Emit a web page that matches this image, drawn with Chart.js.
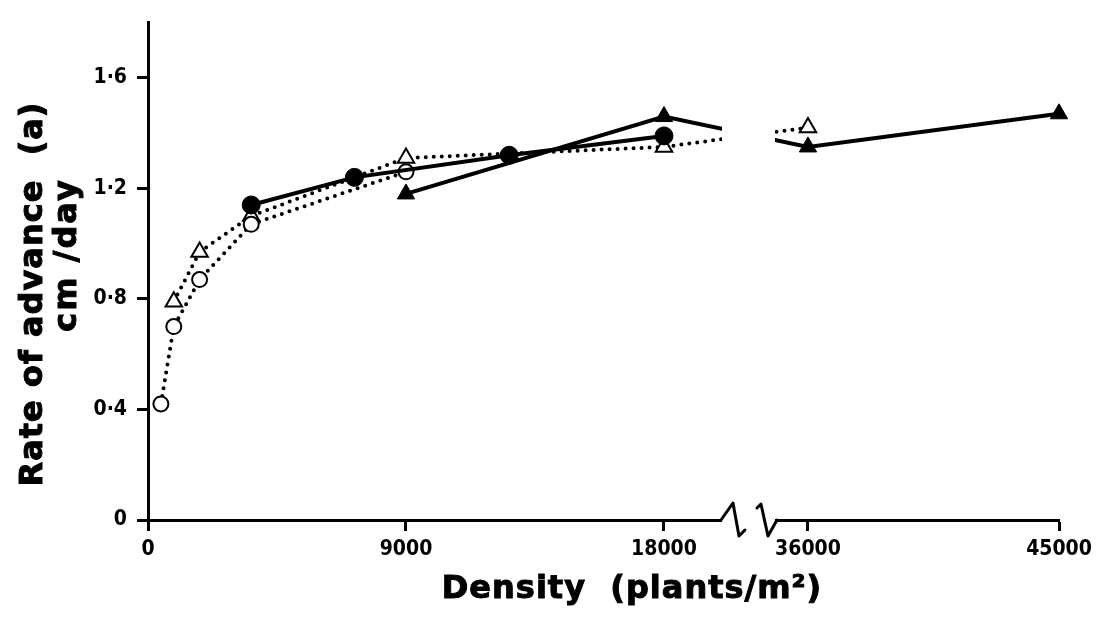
<!DOCTYPE html>
<html>
<head>
<meta charset="utf-8">
<script src="https://cdn.jsdelivr.net/npm/chart.js@4"></script>
<style>
  html, body { margin: 0; padding: 0; background: #fff; }
  #wrap { width: 1106px; height: 621px; }
</style>
</head>
<body>
<div id="wrap"><canvas id="densityChart" width="1106" height="621"></canvas></div>
<script>
// values (density in plants/m2, rate in cm/day)
var openCircleX = [450, 900, 1800, 3600, 9000];
var openCircleY = [0.42, 0.70, 0.87, 1.07, 1.26];

var openTriX = [900, 1800, 3600, 9000, 18000, 36000];
var openTriY = [0.79, 0.97, 1.10, 1.31, 1.35, 1.42];

var filledCircleX = [3600, 7200, 12600, 18000];
var filledCircleY = [1.14, 1.24, 1.32, 1.39];

var filledTriX = [9000, 18000, 36000, 45000];
var filledTriY = [1.18, 1.46, 1.35, 1.47];

var xTickValues = [0, 9000, 18000, 36000, 45000];
var yTickValues = [0, 0.4, 0.8, 1.2, 1.6];
var yTickLabels = ["0", "0·4", "0·8", "1·2", "1·6"];

// broken x axis: 18000..36000 squeezed into a short gap
var BREAK_LO = 18000, BREAK_HI = 36000;
var BREAK_GAP = 5023;      // axis units between the two ends of the break
var RIGHT_SCALE = 0.973;   // right-hand part is drawn slightly tighter

function toAxis(d) {
    if (d <= BREAK_LO) return d;
    return BREAK_LO + BREAK_GAP + (d - BREAK_HI) * RIGHT_SCALE;
}

function pts(xs, ys) {
    return xs.map(function(x, i) { return { x: toAxis(x), y: ys[i] }; });
}

var tickFont = { family: '"Liberation Sans Narrow", "DejaVu Sans Condensed", sans-serif', size: 21, weight: 'bold' };
var titleFont = 'bold 32px "DejaVu Sans", sans-serif';

function heavyText(ctx, txt, x, y) {
    ctx.fillText(txt, x, y);
    ctx.strokeText(txt, x, y);
}

var breakPlugin = {
    id: 'axisBreak',
    afterDatasetsDraw: function(chart) {
        var ctx = chart.ctx;
        var xs = chart.scales.x;
        var area = chart.chartArea;
        var p18 = xs.getPixelForValue(toAxis(BREAK_LO));
        var p36 = xs.getPixelForValue(toAxis(BREAK_HI));
        var a = p18 + 58, b = p36 - 33;
        var y0 = area.bottom;
        ctx.save();
        ctx.fillStyle = '#fff';
        ctx.fillRect(a, area.top, b - a, y0 - area.top + 20);
        ctx.strokeStyle = '#000';
        ctx.lineWidth = 3;
        ctx.lineJoin = 'round';
        ctx.lineCap = 'round';
        ctx.beginPath();
        ctx.moveTo(a - 1, y0);
        ctx.lineTo(a + 11, y0 - 17);
        ctx.lineTo(a + 17, y0 + 16);
        ctx.lineTo(a + 23, y0 + 10);
        ctx.stroke();
        ctx.beginPath();
        ctx.moveTo(b - 18, y0 - 12);
        ctx.lineTo(b - 14, y0 - 16);
        ctx.lineTo(b - 7, y0 + 16);
        ctx.lineTo(b + 2, y0);
        ctx.stroke();
        ctx.restore();
    },
    afterDraw: function(chart) {
        var ctx = chart.ctx;
        ctx.save();
        ctx.fillStyle = '#000';
        ctx.strokeStyle = '#000';
        ctx.lineWidth = 1;
        ctx.font = titleFont;
        ctx.textAlign = 'center';
        ctx.textBaseline = 'middle';
        if ('letterSpacing' in ctx) ctx.letterSpacing = '1px';
        heavyText(ctx, 'Density  (plants/m²)', 632, 590);
        ctx.translate(34, 294);
        ctx.rotate(-Math.PI / 2);
        heavyText(ctx, 'Rate of advance  (a)', 0, 0);
        ctx.restore();
        ctx.save();
        ctx.fillStyle = '#000';
        ctx.strokeStyle = '#000';
        ctx.lineWidth = 1;
        ctx.font = titleFont;
        ctx.textAlign = 'center';
        ctx.textBaseline = 'middle';
        if ('letterSpacing' in ctx) ctx.letterSpacing = '2px';
        ctx.translate(68, 255);
        ctx.rotate(-Math.PI / 2);
        heavyText(ctx, 'cm /day', 0, 0);
        ctx.restore();
    }
};

var solid = { borderColor: '#000', borderWidth: 4, borderDash: [] };
var dotted = { borderColor: '#000', borderWidth: 4, borderDash: [0, 8], borderCapStyle: 'round' };

var data = {
    datasets: [
        Object.assign({
            label: 'filled triangles', data: pts(filledTriX, filledTriY),
            pointStyle: 'triangle', pointRadius: 10, pointBackgroundColor: '#000', pointBorderColor: '#000', pointBorderWidth: 1
        }, solid),
        Object.assign({
            label: 'filled circles', data: pts(filledCircleX, filledCircleY),
            pointStyle: 'circle', pointRadius: 9, pointBackgroundColor: '#000', pointBorderColor: '#000', pointBorderWidth: 1
        }, solid),
        Object.assign({
            label: 'open circles', data: pts(openCircleX, openCircleY),
            pointStyle: 'circle', pointRadius: 7.5, pointBackgroundColor: '#fff', pointBorderColor: '#000', pointBorderWidth: 2
        }, dotted),
        Object.assign({
            label: 'open triangles', data: pts(openTriX, openTriY),
            pointStyle: 'triangle', pointRadius: 9.5, pointBackgroundColor: '#fff', pointBorderColor: '#000', pointBorderWidth: 2
        }, dotted)
    ]
};
data.datasets.forEach(function(ds) {
    ds.showLine = true;
    ds.fill = false;
    ds.tension = 0;
    ds.clip = false;
    ds.pointHoverRadius = ds.pointRadius;
});

var options = {
    responsive: false,
    animation: false,
    events: [],
    layout: { padding: { top: 10, right: 47, bottom: 0, left: 0 } },
    plugins: { legend: { display: false }, tooltip: { enabled: false } },
    scales: {
        x: {
            type: 'linear',
            min: 0,
            max: toAxis(45000),
            afterFit: function(scale) { scale.height = 101; },
            afterBuildTicks: function(scale) {
                scale.ticks = xTickValues.map(function(v) { return { value: toAxis(v), label: String(v) }; });
            },
            ticks: {
                color: '#000', font: tickFont, padding: 6, maxRotation: 0, autoSkip: false,
                callback: function(value, index) { return String(xTickValues[index]); }
            },
            grid: { drawOnChartArea: false, drawTicks: true, tickLength: 11, tickWidth: 3, tickColor: '#000' },
            border: { display: true, color: '#000', width: 3 }
        },
        y: {
            type: 'linear',
            min: 0,
            max: 1.8,
            afterFit: function(scale) { scale.width = 148; },
            afterBuildTicks: function(scale) {
                scale.ticks = yTickValues.map(function(v) { return { value: v }; });
            },
            ticks: {
                color: '#000', font: tickFont, padding: 10, autoSkip: false,
                callback: function(value, index) { return yTickLabels[index]; }
            },
            grid: { drawOnChartArea: false, drawTicks: true, tickLength: 11, tickWidth: 3, tickColor: '#000' },
            border: { display: true, color: '#000', width: 3 }
        }
    }
};

var ctx = document.getElementById("densityChart").getContext("2d");
var densityChart = new Chart(ctx, {
    type: 'scatter',
    data: data,
    options: options,
    plugins: [breakPlugin]
});
</script>
</body>
</html>
